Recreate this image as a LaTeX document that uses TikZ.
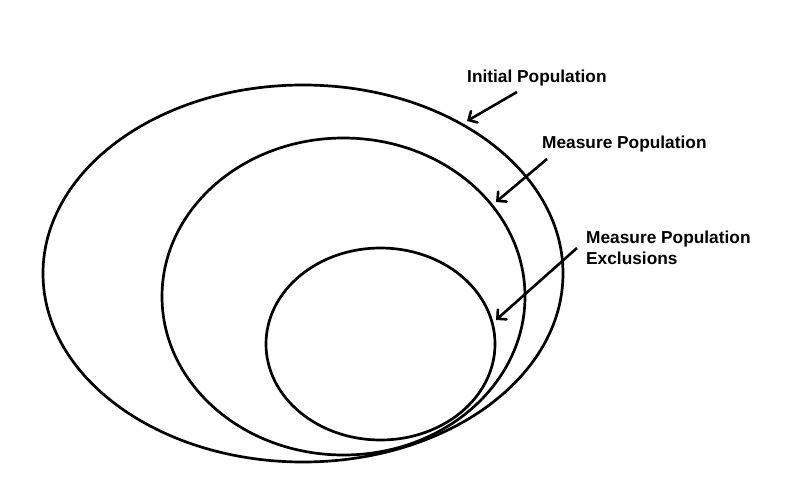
\documentclass[tikz,border=0pt]{standalone}
\usepackage{fontspec}
\setmainfont{Liberation Sans}
\usetikzlibrary{arrows.meta}
\begin{document}
\begin{tikzpicture}[x=1pt,y=-1pt,
  ring/.style={line width=2.7pt},
  lbl/.style={font=\bfseries\fontsize{17.3}{20.5}\selectfont, inner sep=0pt, anchor=base west, align=left},
  pointer/.style={line width=2.6pt, -{Straight Barb[length=6.5pt,width=13pt,line cap=round]}}]
  \useasboundingbox[fill=white] (0,0) rectangle (800,500);
  % ellipses
  \draw[ring] (303,273.5) ellipse [x radius=260pt, y radius=188.5pt];
  \draw[ring] (343.5,296.5) ellipse [x radius=181.5pt, y radius=158.5pt];
  \draw[ring] (380.5,344) ellipse [x radius=114.5pt, y radius=96pt];
  % labels
  \node[lbl] (init) at (467,83) {Initial Population};
  \node[lbl] (meas) at (542,149) {Measure Population};
  \node[lbl] (excl) at (586,264) {Measure Population\\Exclusions};
  % arrow ends
  \coordinate (a1s) at (517,92);
  \coordinate (a1e) at (467,121);
  \coordinate (a2s) at (547,159);
  \coordinate (a2e) at (496,202);
  \coordinate (a3s) at (577,248);
  \coordinate (a3e) at (496,320);
  \draw[pointer] (a1s) -- (a1e);
  \draw[pointer] (a2s) -- (a2e);
  \draw[pointer] (a3s) -- (a3e);
\end{tikzpicture}
\end{document}
